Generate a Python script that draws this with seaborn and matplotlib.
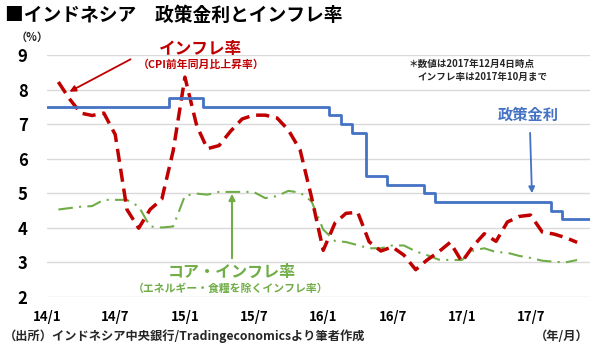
import numpy as np
import pandas as pd
import matplotlib
matplotlib.use("Agg")
import matplotlib.pyplot as plt
import matplotlib.dates as mdates
import seaborn as sns

# ---------------- data ----------------
policy_dates = ["2014-01-01", "2014-11-18", "2015-02-17", "2016-01-14", "2016-02-17",
                "2016-03-17", "2016-04-21", "2016-06-16", "2016-09-22", "2016-10-20",
                "2017-08-22", "2017-09-22", "2017-12-04"]
policy_rate = [7.5, 7.75, 7.5, 7.25, 7.0, 6.75, 5.5, 5.25, 5.0, 4.75, 4.5, 4.25, 4.25]

month_end_dates = pd.date_range("2014-01-31", "2017-10-31", freq="ME")
cpi_inflation = [8.22, 7.75, 7.32, 7.25, 7.32, 6.70, 4.53, 3.99, 4.53, 4.83, 6.23, 8.36,
                 6.96, 6.29, 6.38, 6.79, 7.15, 7.26, 7.26, 7.18, 6.83, 6.25, 4.89, 3.35,
                 4.14, 4.42, 4.45, 3.60, 3.33, 3.45, 3.21, 2.79, 3.07, 3.31, 3.58, 3.02,
                 3.49, 3.83, 3.61, 4.17, 4.33, 4.37, 3.88, 3.82, 3.72, 3.58]
core_inflation = [4.53, 4.57, 4.61, 4.63, 4.81, 4.81, 4.81, 4.62, 4.04, 4.01, 4.04, 4.93,
                  4.99, 4.96, 5.04, 5.04, 5.04, 5.04, 4.86, 4.92, 5.07, 5.02, 4.77, 3.95,
                  3.62, 3.59, 3.50, 3.41, 3.41, 3.49, 3.49, 3.32, 3.21, 3.08, 3.07, 3.07,
                  3.35, 3.41, 3.30, 3.28, 3.19, 3.13, 3.05, 3.02, 3.00, 3.07]

x_tick_dates = ["2014-01-01", "2014-07-01", "2015-01-01", "2015-07-01",
                "2016-01-01", "2016-07-01", "2017-01-01", "2017-07-01"]
x_tick_labels = ["14/1", "14/7", "15/1", "15/7", "16/1", "16/7", "17/1", "17/7"]
y_ticks = [2, 3, 4, 5, 6, 7, 8, 9]

# ---------------- style ----------------
sns.set_theme(style="white")
plt.rcParams["font.family"] = ["Noto Sans CJK JP", "DejaVu Sans"]

BLUE = "#4472C4"
RED = "#C00000"
GREEN = "#70AD47"
GRID = "#D9D9D9"

fig = plt.figure(figsize=(6, 3.5), dpi=100)
ax = fig.add_axes([47 / 600, 1 - 297 / 350, (590 - 47) / 600, (297 - 55) / 350])

df_policy = pd.DataFrame({"date": pd.to_datetime(policy_dates), "rate": policy_rate})
df_infl = pd.DataFrame({"date": month_end_dates, "cpi": cpi_inflation, "core": core_inflation})

sns.lineplot(data=df_infl, x="date", y="core", ax=ax, color=GREEN, linewidth=1.5,
             linestyle=(0, (7, 3, 1, 3)))
sns.lineplot(data=df_infl, x="date", y="cpi", ax=ax, color=RED, linewidth=2.5,
             linestyle=(0, (3.8, 2.0)))
sns.lineplot(data=df_policy, x="date", y="rate", ax=ax, color=BLUE, linewidth=2.0,
             drawstyle="steps-post")

ax.set_xlim(pd.Timestamp("2014-01-01"), pd.Timestamp("2017-12-04"))
ax.set_ylim(2, 9)
ax.set_yticks(y_ticks)
ax.set_yticklabels([str(v) for v in y_ticks], fontsize=12, fontweight="bold")
ax.set_xticks(pd.to_datetime(x_tick_dates))
ax.set_xticklabels(x_tick_labels, fontsize=9.5, fontweight="bold")
ax.tick_params(axis="y", length=0, pad=14, colors="black")
ax.tick_params(axis="x", length=0, pad=9, colors="black")
ax.set_xlabel("")
ax.set_ylabel("")
for s in ax.spines.values():
    s.set_visible(False)
ax.grid(axis="y", color=GRID, linewidth=1.0)
ax.grid(axis="x", visible=False)
ax.set_axisbelow(True)

def fx(px):
    return px / 600

def fy(py):
    return 1 - py / 350

# titles / texts
fig.text(fx(5), fy(15), "■インドネシア　政策金利とインフレ率", fontsize=13.5,
         fontweight="bold", ha="left", va="center", color="black")
fig.text(fx(32), fy(37), "（%）", fontsize=8, fontweight="bold", ha="center", va="center")
fig.text(fx(200), fy(49), "インフレ率", fontsize=12, fontweight="bold", color=RED,
         ha="center", va="center")
fig.text(fx(201), fy(65), "（CPI前年同月比上昇率）", fontsize=7.8, fontweight="bold",
         color=RED, ha="center", va="center")
fig.text(fx(409), fy(64), "＊数値は2017年12月4日時点", fontsize=6.9, fontweight="bold",
         ha="left", va="center")
fig.text(fx(417), fy(77), "インフレ率は2017年10月まで", fontsize=6.9, fontweight="bold",
         ha="left", va="center")
fig.text(fx(528), fy(115), "政策金利", fontsize=11, fontweight="bold", color=BLUE,
         ha="center", va="center")
fig.text(fx(232), fy(272), "コア・インフレ率", fontsize=11.5, fontweight="bold", color=GREEN,
         ha="center", va="center")
fig.text(fx(231), fy(289), "（エネルギー・食糧を除くインフレ率）", fontsize=7.8,
         fontweight="bold", color=GREEN, ha="center", va="center")
fig.text(fx(4), fy(336), "（出所）インドネシア中央銀行/Tradingeconomicsより筆者作成",
         fontsize=8.8, fontweight="bold", ha="left", va="center")
fig.text(fx(589), fy(336), "（年/月）", fontsize=8.8, fontweight="bold", ha="right", va="center")

# arrows (figure fraction coordinates)
ax.annotate("", xy=(fx(67), fy(93)), xycoords="figure fraction",
            xytext=(fx(133), fy(58)), textcoords="figure fraction",
            arrowprops=dict(arrowstyle="-|>", color=RED, lw=1.3, mutation_scale=9))
ax.annotate("", xy=(fx(532), fy(196)), xycoords="figure fraction",
            xytext=(fx(530), fy(130)), textcoords="figure fraction",
            arrowprops=dict(arrowstyle="-|>", color=BLUE, lw=1.3, mutation_scale=9))
ax.annotate("", xy=(fx(232), fy(191)), xycoords="figure fraction",
            xytext=(fx(232), fy(261)), textcoords="figure fraction",
            arrowprops=dict(arrowstyle="-|>", color=GREEN, lw=1.5, mutation_scale=9))

fig.savefig("out.png", dpi=100)
